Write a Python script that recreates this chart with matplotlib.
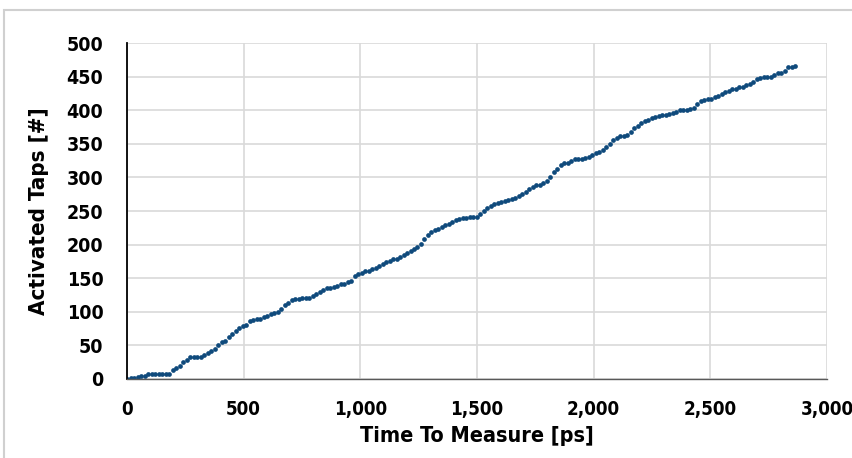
import numpy as np
import matplotlib
matplotlib.use("Agg")
import matplotlib.pyplot as plt
from matplotlib.patches import Rectangle
from matplotlib.ticker import FuncFormatter, MultipleLocator

# muestreo cada 15 ps
dt = 15
taps = [0, 1, 2, 3, 4, 5, 7, 7, 7, 7, 7, 7, 8, 13, 17, 20, 26, 29, 32, 32,
        33, 33, 36, 39, 41, 45, 50, 55, 56, 62, 67, 72, 76, 79, 81, 86, 88, 89, 90, 92,
        94, 96, 98, 100, 104, 110, 113, 117, 119, 119, 120, 120, 121, 123, 126, 130, 132, 135, 136, 137,
        139, 141, 142, 144, 146, 154, 156, 158, 160, 161, 163, 165, 168, 171, 174, 176, 178, 179, 181, 185,
        188, 191, 194, 196, 201, 208, 214, 219, 221, 223, 226, 229, 231, 233, 236, 238, 239, 240, 241, 241,
        241, 246, 250, 254, 257, 260, 262, 263, 265, 266, 268, 270, 272, 276, 279, 283, 286, 288, 289, 291,
        294, 300, 308, 312, 318, 321, 321, 325, 327, 327, 328, 329, 331, 334, 336, 338, 341, 345, 349, 355,
        359, 361, 362, 363, 368, 373, 377, 381, 384, 386, 388, 390, 392, 393, 393, 394, 396, 398, 400, 401,
        401, 402, 404, 409, 414, 415, 416, 417, 419, 421, 424, 427, 429, 431, 432, 434, 435, 437, 439, 442,
        446, 448, 449, 449, 450, 452, 455, 456, 458, 464, 465, 466]
t = np.arange(len(taps)) * dt

plt.rcParams['font.family'] = ['DejaVu Sans']
plt.rcParams['font.stretch'] = 'condensed'

fig = plt.figure(figsize=(8.53, 4.58), dpi=100)
ax = fig.add_axes([0.1489, 0.1725, 0.8206, 0.7336])

ax.plot(t, taps, 'o', color='#0f4a7c', markersize=3.4, markeredgewidth=0)

ax.set_xlim(0, 3000)
ax.set_ylim(0, 500)
ax.xaxis.set_major_locator(MultipleLocator(500))
ax.yaxis.set_major_locator(MultipleLocator(50))
ax.xaxis.set_major_formatter(FuncFormatter(lambda v, p: f'{v:,.0f}'))

ax.grid(True, color='#d9d9d9', linewidth=1.2)
ax.set_axisbelow(True)
for s in ['top', 'right']:
    ax.spines[s].set_visible(False)
ax.spines['left'].set_color('#000000')
ax.spines['left'].set_linewidth(1.3)
ax.spines['bottom'].set_color('#595959')
ax.spines['bottom'].set_linewidth(1.0)

ax.tick_params(length=0)
ax.tick_params(axis='y', pad=17, labelsize=14)
ax.tick_params(axis='x', pad=15, labelsize=13.5)
for lbl in ax.get_xticklabels() + ax.get_yticklabels():
    lbl.set_fontweight('bold')

ax.set_xlabel('Time To Measure [ps]', fontsize=15.5, fontweight='bold', labelpad=5)
ax.set_ylabel('Activated Taps [#]', fontsize=16, fontweight='bold', labelpad=13)

# recuadro del area del grafico
fig.patches.append(Rectangle((4 / 853, -0.1), 1.2, 0.978 + 0.1, transform=fig.transFigure,
                             fill=False, edgecolor='#d0d0d0', linewidth=1.5))

fig.savefig('out.png', dpi=100)
